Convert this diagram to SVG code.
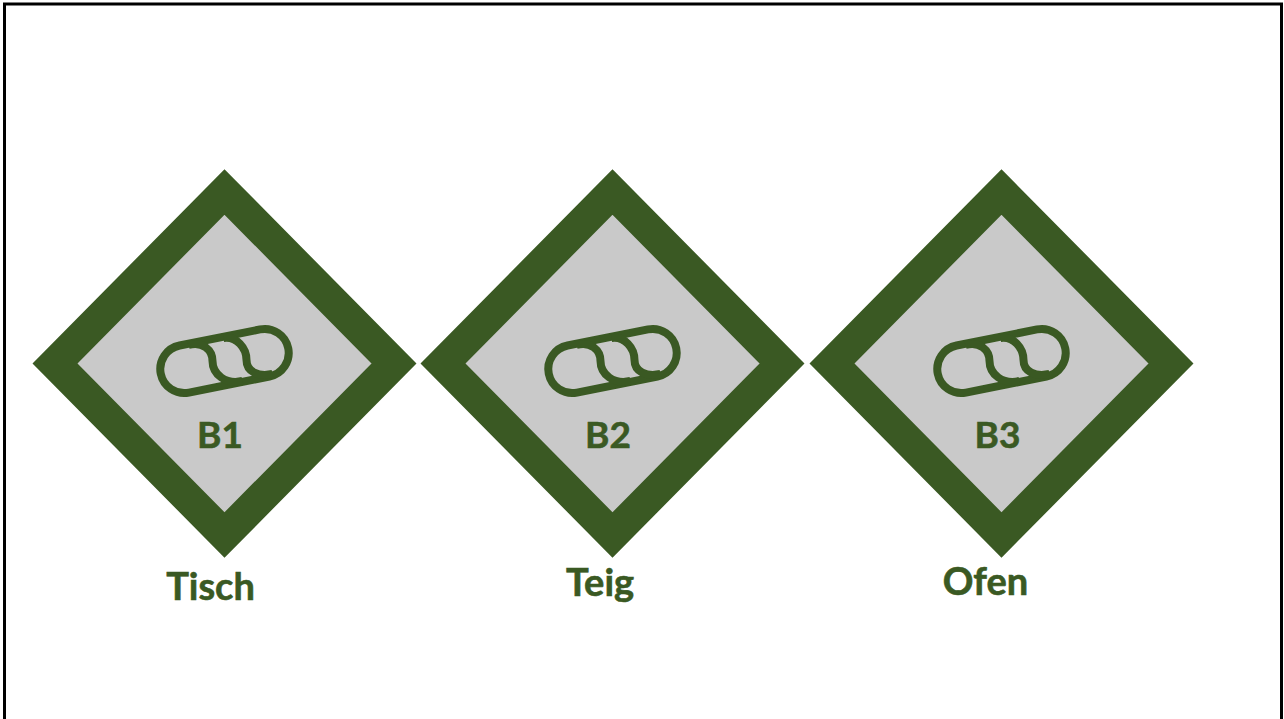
<svg xmlns="http://www.w3.org/2000/svg" width="1284" height="719" viewBox="0 0 1284 719">
<defs>
<style>
.d{fill:#c9c9c9;stroke:#3a5923;stroke-width:32}
.i{fill:none;stroke:#3a5923;stroke-width:8}
.c{font-family:"Lato","Open Sans",sans-serif;font-weight:700;fill:#3a5923;stroke:#3a5923;stroke-width:.6;text-anchor:middle}
</style>
<g id="ic">
<rect class="i" x="-65" y="-24" width="130" height="48" rx="24" transform="rotate(-11.3)"/>
<path class="i" d="M-36-16C-22-20-12-11-12 0C-12 13 1 24 18 20M-1-23C12-25 22-13 22-1C22 11 34 16 48 13"/>
</g>
</defs>
<rect x="4.500" y="4" width="1277" height="720" fill="#fff" stroke="#000" stroke-width="3"/>
<g id="node-b1"><path class="d" d="M224.500 192L394 363.500L224.500 535L55 363.500Z"/><use href="#ic" x="224.500" y="361"/><text class="c" x="220" y="448" font-size="37">B1</text><text class="c" x="210.500" y="600" font-size="38">Tisch</text></g>
<g id="node-b2"><path class="d" d="M612.500 192L782 363.500L612.500 535L443 363.500Z"/><use href="#ic" x="612.500" y="361"/><text class="c" x="608" y="448" font-size="37">B2</text><text class="c" x="600" y="596" font-size="38">Teig</text></g>
<g id="node-b3"><path class="d" d="M1001.500 192L1171 363.500L1001.500 535L832 363.500Z"/><use href="#ic" x="1001.500" y="361"/><text class="c" x="997.500" y="448" font-size="37">B3</text><text class="c" x="985.500" y="595" font-size="38">Ofen</text></g>
<g id="connectors"></g>
</svg>
